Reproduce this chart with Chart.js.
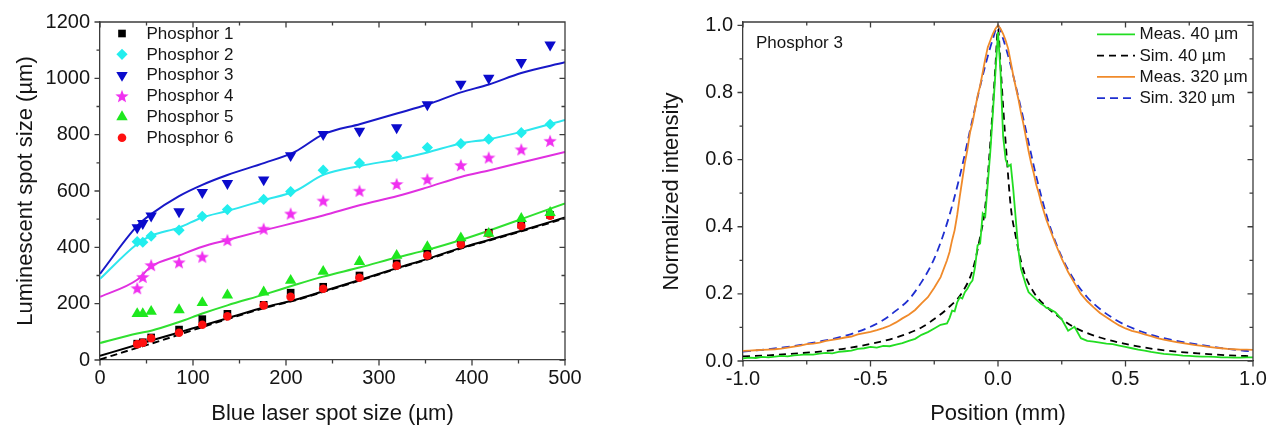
<!DOCTYPE html>
<html>
<head>
<meta charset="utf-8">
<script src="https://cdn.jsdelivr.net/npm/chart.js@4.4.1/dist/chart.umd.min.js"></script>
<style>
html,body{margin:0;padding:0;background:#ffffff;}
#wrap{position:relative;width:1280px;height:430px;overflow:hidden;}
#c1{position:absolute;left:0;top:0;}
#c2{position:absolute;left:640px;top:0;}
</style>
</head>
<body>
<div id="wrap">
<canvas id="c1" width="640" height="430" style="width:640px;height:430px"></canvas>
<canvas id="c2" width="640" height="430" style="width:640px;height:430px"></canvas>
</div>
<script>
// ---------------- LEFT CHART DATA ----------------
const spotSize  = [40, 46, 55, 85, 110, 137, 176, 205, 240, 279, 319, 352, 388, 418, 453, 484];
const phosphor1 = [58, 63, 80, 108, 145, 164, 196, 239, 260, 300, 343, 380, 415, 452, 480, 515];
const phosphor2 = [420, 418, 440, 461, 510, 534, 570, 598, 674, 699, 723, 754, 768, 784, 807, 837];
const phosphor3 = [470, 485, 512, 527, 595, 627, 640, 726, 801, 813, 825, 907, 980, 1001, 1057, 1119];
const phosphor4 = [255, 295, 337, 347, 367, 426, 466, 520, 566, 601, 625, 642, 692, 719, 748, 778];
const phosphor5 = [164, 164, 172, 178, 203, 230, 241, 282, 314, 349, 371, 402, 433, 449, 502, 523];
const phosphor6 = [56, 61, 77, 97, 125, 155, 194, 224, 253, 292, 335, 371, 410, 449, 476, 512];

const simX    = [0, 40, 55, 85, 110, 137, 177, 210, 240, 280, 320, 352, 388, 418, 453, 500];
const simP3   = [306, 476, 518, 582, 622, 657, 700, 740, 801, 838, 876, 907, 950, 978, 1019, 1057];
const simP2   = [288, 412, 441, 470, 506, 529, 568, 600, 657, 689, 713, 737, 769, 784, 810, 852];
const simP4   = [224, 285, 332, 371, 402, 426, 461, 488, 513, 550, 582, 613, 650, 673, 701, 739];
const simP5   = [60, 94, 104, 135, 165, 194, 233, 267, 296, 329, 365, 391, 426, 459, 500, 556];
const simP1   = [15, 54, 69, 98, 122, 148, 187, 214, 244, 285, 327, 359, 398, 426, 459, 506];
const simP6   = [2, 43, 58, 90, 117, 145, 185, 212, 242, 283, 325, 357, 396, 424, 457, 503];

const leftXTicks = [0, 100, 200, 300, 400, 500];
const leftXMinor = [50, 150, 250, 350, 450];
const leftYTicks = [0, 200, 400, 600, 800, 1000, 1200];
const leftYMinor = [100, 300, 500, 700, 900, 1100];
const phosphorNames = ['Phosphor 1', 'Phosphor 2', 'Phosphor 3', 'Phosphor 4', 'Phosphor 5', 'Phosphor 6'];

// ---------------- RIGHT CHART DATA ----------------
const posMeas = [
  -1.000,-0.975,-0.950,-0.925,-0.900,-0.875,-0.850,-0.825,-0.800,-0.775,-0.750,-0.725,-0.700,-0.675,-0.650,-0.625,-0.600,
  -0.575,-0.550,-0.525,-0.500,-0.475,-0.450,-0.425,-0.400,-0.375,-0.350,-0.325,-0.300,-0.275,-0.250,-0.225,-0.200,
  -0.19,-0.18,-0.17,-0.16,-0.15,-0.14,-0.13,-0.12,-0.11,-0.10,-0.09,-0.08,-0.07,-0.06,-0.05,-0.04,-0.03,-0.02,-0.01,
  0.00,0.01,0.02,0.03,0.04,0.05,0.06,0.07,0.08,0.09,0.10,0.11,0.12,0.13,0.14,0.15,0.16,0.17,0.18,0.19,
  0.200,0.225,0.250,0.275,0.300,0.325,0.350,0.375,0.400,0.425,0.450,0.475,0.500,0.525,0.550,0.575,0.600,
  0.625,0.650,0.675,0.700,0.725,0.750,0.775,0.800,0.825,0.850,0.875,0.900,0.925,0.950,0.975,1.000];
const meas40 = [
  0.008,0.010,0.009,0.012,0.011,0.013,0.015,0.014,0.017,0.018,0.020,0.019,0.022,0.024,0.023,0.027,0.029,
  0.031,0.036,0.038,0.042,0.040,0.045,0.044,0.049,0.053,0.060,0.066,0.078,0.086,0.097,0.108,0.112,
  0.128,0.150,0.148,0.175,0.190,0.186,0.205,0.215,0.230,0.240,0.280,0.345,0.350,0.440,0.430,0.530,0.625,0.740,0.860,
  0.980,0.860,0.670,0.600,0.580,0.585,0.510,0.420,0.330,0.275,0.250,0.225,0.205,0.198,0.190,0.183,0.176,0.170,0.165,0.158,
  0.156,0.145,0.124,0.090,0.102,0.068,0.060,0.058,0.055,0.052,0.050,0.046,0.042,0.038,0.034,0.031,0.027,
  0.024,0.021,0.020,0.018,0.016,0.015,0.014,0.013,0.013,0.012,0.011,0.011,0.010,0.010,0.011,0.011];
const meas320 = [
  0.030,0.031,0.032,0.033,0.034,0.035,0.037,0.040,0.043,0.046,0.050,0.052,0.055,0.060,0.063,0.066,0.070,
  0.073,0.079,0.083,0.087,0.092,0.098,0.105,0.115,0.127,0.138,0.152,0.172,0.190,0.218,0.250,0.300,
  0.325,0.360,0.390,0.435,0.490,0.540,0.590,0.630,0.680,0.710,0.750,0.790,0.820,0.860,0.900,0.935,0.955,0.975,0.990,
  1.000,0.990,0.975,0.955,0.930,0.890,0.850,0.815,0.780,0.740,0.705,0.665,0.625,0.590,0.560,0.525,0.500,0.470,0.445,0.420,
  0.400,0.350,0.305,0.265,0.232,0.200,0.178,0.160,0.143,0.130,0.118,0.106,0.097,0.090,0.085,0.079,0.074,
  0.068,0.064,0.060,0.056,0.053,0.050,0.047,0.045,0.042,0.040,0.038,0.036,0.035,0.034,0.034,0.033];
const posSim320 = [-1.0,-0.9,-0.8,-0.7,-0.6,-0.5,-0.45,-0.4,-0.35,-0.3,-0.25,-0.2,-0.15,-0.1,-0.05,-0.02,0,0.02,0.05,0.1,0.15,0.2,0.25,0.3,0.35,0.4,0.45,0.5,0.6,0.7,0.8,0.9,1.0];
const sim320    = [0.028,0.035,0.045,0.058,0.075,0.102,0.122,0.150,0.183,0.235,0.305,0.41,0.55,0.72,0.88,0.96,1.0,0.96,0.88,0.72,0.55,0.41,0.31,0.24,0.19,0.155,0.128,0.107,0.078,0.060,0.047,0.036,0.028];
const posSim40  = [-1.0,-0.9,-0.8,-0.7,-0.6,-0.5,-0.4,-0.3,-0.25,-0.2,-0.14,-0.1,-0.07,-0.05,-0.035,-0.02,-0.01,0,0.01,0.02,0.035,0.05,0.07,0.1,0.14,0.2,0.25,0.3,0.4,0.5,0.6,0.7,0.8,0.9,1.0];
const sim40     = [0.014,0.017,0.022,0.028,0.037,0.051,0.07,0.1,0.125,0.155,0.205,0.27,0.37,0.46,0.6,0.76,0.88,0.99,0.88,0.76,0.6,0.46,0.37,0.27,0.205,0.155,0.125,0.1,0.07,0.051,0.037,0.028,0.022,0.017,0.014];

const rightXTicks = [-1.0, -0.5, 0.0, 0.5, 1.0];
const rightXMinor = [-0.75, -0.25, 0.25, 0.75];
const rightYTicks = [0.0, 0.2, 0.4, 0.6, 0.8, 1.0];
const rightYMinor = [0.1, 0.3, 0.5, 0.7, 0.9];
const rightNames = ['Meas. 40 µm', 'Sim. 40 µm', 'Meas. 320 µm', 'Sim. 320 µm'];
const rightLabel = 'Phosphor 3';

// ---------------- STYLE ----------------
const FONT = "'Liberation Sans', Arial, Helvetica, sans-serif";
Chart.defaults.font.family = FONT;
Chart.defaults.color = '#151515';
Chart.defaults.animation = false;
const AXIS = '#3c3c3c';

function starCanvas(color, size) {
  const c = document.createElement('canvas');
  c.width = size; c.height = size;
  const g = c.getContext('2d');
  const cx = size / 2, cy = size / 2 + size * 0.05, R = size / 2, r = R * 0.42;
  g.beginPath();
  for (let i = 0; i < 10; i++) {
    const ang = -Math.PI / 2 + i * Math.PI / 5;
    const rr = (i % 2) ? r : R;
    g.lineTo(cx + rr * Math.cos(ang), cy + rr * Math.sin(ang));
  }
  g.closePath(); g.fillStyle = color; g.fill();
  return c;
}
const starImg = starCanvas('#f030f0', 14);

const pts = (xs, ys) => xs.map((x, i) => ({ x: x, y: ys[i] }));
const setTicks = arr => s => { s.ticks = arr.map(v => ({ value: v })); };

function frameTicks(xMajor, xMinor, yMajor, yMinor) {
  return {
    id: 'frameTicks',
    afterDraw(chart) {
      const { ctx, chartArea: a, scales } = chart;
      const x = scales.x, y = scales.y;
      ctx.save();
      ctx.strokeStyle = AXIS; ctx.lineWidth = 1.3;
      ctx.beginPath();
      ctx.moveTo(a.left, a.top); ctx.lineTo(a.right, a.top); ctx.lineTo(a.right, a.bottom);
      const seg = (x1, y1, x2, y2) => { ctx.moveTo(x1, y1); ctx.lineTo(x2, y2); };
      const MJ = 5.5, MN = 3.5;
      xMajor.forEach(v => { const p = x.getPixelForValue(v); seg(p, a.bottom, p, a.bottom + MJ); seg(p, a.top, p, a.top + MJ); });
      xMinor.forEach(v => { const p = x.getPixelForValue(v); seg(p, a.bottom, p, a.bottom + MN); seg(p, a.top, p, a.top + MN); });
      yMajor.forEach(v => { const p = y.getPixelForValue(v); seg(a.left, p, a.left - MJ, p); seg(a.right, p, a.right - MJ, p); });
      yMinor.forEach(v => { const p = y.getPixelForValue(v); seg(a.left, p, a.left - MN, p); seg(a.right, p, a.right - MN, p); });
      ctx.stroke();
      ctx.restore();
    }
  };
}

function drawMarker(ctx, ds, x, y) {
  const r = ds.pointRadius;
  ctx.save();
  ctx.fillStyle = ds.pointBackgroundColor;
  ctx.beginPath();
  const st = ds.pointStyle;
  if (st instanceof HTMLCanvasElement) {
    ctx.drawImage(st, x - st.width / 2, y - st.height / 2);
    ctx.restore(); return;
  }
  if (st === 'rect') { const h = r * Math.SQRT1_2; ctx.rect(x - h, y - h, 2 * h, 2 * h); }
  else if (st === 'rectRot') { ctx.moveTo(x, y - r); ctx.lineTo(x + r, y); ctx.lineTo(x, y + r); ctx.lineTo(x - r, y); ctx.closePath(); }
  else if (st === 'triangle') {
    let a = (ds.rotation || 0) * Math.PI / 180;
    for (let i = 0; i < 3; i++) { const px = x + Math.sin(a) * r, py = y - Math.cos(a) * r; if (i === 0) ctx.moveTo(px, py); else ctx.lineTo(px, py); a += 2 * Math.PI / 3; }
    ctx.closePath();
  } else { ctx.arc(x, y, r, 0, Math.PI * 2); }
  ctx.fill();
  ctx.restore();
}

const leftLegend = {
  id: 'leftLegend',
  afterDraw(chart) {
    const ctx = chart.ctx;
    ctx.save();
    ctx.font = '17px ' + FONT;
    ctx.fillStyle = '#151515';
    ctx.textBaseline = 'middle';
    ctx.textAlign = 'left';
    for (let i = 0; i < 6; i++) {
      const ds = chart.data.datasets[i];
      const yy = 33.5 + i * 20.85;
      drawMarker(ctx, ds, 122, yy);
      ctx.fillText(ds.label, 146.5, yy + 0.5);
    }
    ctx.restore();
  }
};

const rightLegend = {
  id: 'rightLegend',
  afterDraw(chart) {
    const ctx = chart.ctx;
    ctx.save();
    ctx.font = '17px ' + FONT;
    ctx.textBaseline = 'middle';
    ctx.textAlign = 'left';
    for (let i = 0; i < 4; i++) {
      const ds = chart.data.datasets[i];
      const yy = 34.3 + i * 21.3;
      ctx.strokeStyle = ds.borderColor; ctx.lineWidth = ds.borderWidth;
      ctx.setLineDash(ds.borderDash || []);
      ctx.beginPath(); ctx.moveTo(1097 - 640, yy); ctx.lineTo(1135 - 640, yy); ctx.stroke();
      ctx.setLineDash([]);
      ctx.fillStyle = '#151515';
      ctx.fillText(ds.label, 1139.5 - 640, yy + 0.5);
    }
    ctx.fillText(rightLabel, 756 - 640, 43.5);
    ctx.restore();
  }
};

function scatterDs(label, ys, color, style, radius, order, rotation) {
  return {
    label: label, data: pts(spotSize, ys), showLine: false,
    pointStyle: style, pointRadius: radius, pointHoverRadius: radius,
    pointBackgroundColor: color, pointBorderColor: color, pointBorderWidth: 0,
    backgroundColor: color, borderColor: color, rotation: rotation || 0, order: order
  };
}
function simDs(label, ys, color, dash) {
  return {
    label: label, data: pts(simX, ys), showLine: true, pointRadius: 0, pointHoverRadius: 0,
    borderColor: color, backgroundColor: color, borderWidth: 2, borderDash: dash || [],
    cubicInterpolationMode: 'monotone', fill: false, order: 20
  };
}

new Chart(document.getElementById('c1'), {
  type: 'scatter',
  data: {
    datasets: [
      scatterDs(phosphorNames[0], phosphor1, '#000000', 'rect', 5.4, 2),
      scatterDs(phosphorNames[1], phosphor2, '#22eeee', 'rectRot', 5.6, 4),
      scatterDs(phosphorNames[2], phosphor3, '#0b0bcc', 'triangle', 6.6, 5, 180),
      scatterDs(phosphorNames[3], phosphor4, '#f030f0', starImg, 7, 3),
      scatterDs(phosphorNames[4], phosphor5, '#1ee81e', 'triangle', 6.6, 0),
      scatterDs(phosphorNames[5], phosphor6, '#ff1010', 'circle', 4.3, 1),
      simDs('Sim. Phosphor 3', simP3, '#1818c8'),
      simDs('Sim. Phosphor 2', simP2, '#2ee6ee'),
      simDs('Sim. Phosphor 4', simP4, '#e030e0'),
      simDs('Sim. Phosphor 5', simP5, '#30e030'),
      simDs('Sim. Phosphor 1', simP1, '#000000'),
      simDs('Sim. Phosphor 6', simP6, '#000000', [7, 4])
    ]
  },
  options: {
    responsive: false, animation: false,
    layout: { padding: { left: 0, right: 75, top: 20, bottom: 0 } },
    plugins: { legend: { display: false }, tooltip: { enabled: false } },
    scales: {
      x: {
        type: 'linear', min: 0, max: 500,
        afterBuildTicks: setTicks(leftXTicks),
        afterFit: s => { s.height = 70; },
        ticks: { font: { size: 20 }, padding: 6, maxRotation: 0, autoSkip: false, color: '#151515', callback: v => String(v) },
        grid: { display: false, drawTicks: false },
        border: { display: true, color: AXIS, width: 1.3 },
        title: { display: true, text: 'Blue laser spot size (µm)', font: { size: 22 }, color: '#151515', padding: { top: 0, bottom: 3 } }
      },
      y: {
        type: 'linear', min: 0, max: 1200,
        afterBuildTicks: setTicks(leftYTicks),
        afterFit: s => { s.width = 100; },
        ticks: { font: { size: 20 }, padding: 10, autoSkip: false, color: '#151515', callback: v => String(v) },
        grid: { display: false, drawTicks: false },
        border: { display: true, color: AXIS, width: 1.3 },
        title: { display: true, text: 'Luminescent spot size (µm)', font: { size: 22 }, color: '#151515', padding: { top: 13, bottom: 0 } }
      }
    }
  },
  plugins: [frameTicks(leftXTicks, leftXMinor, leftYTicks, leftYMinor), leftLegend]
});

function lineDs(label, xs, ys, color, dash, width, smooth) {
  return {
    label: label, data: pts(xs, ys), showLine: true, pointRadius: 0, pointHoverRadius: 0,
    borderColor: color, backgroundColor: color, borderWidth: width, borderDash: dash || [],
    cubicInterpolationMode: smooth ? 'monotone' : 'default', tension: 0, fill: false
  };
}

new Chart(document.getElementById('c2'), {
  type: 'scatter',
  data: {
    datasets: [
      lineDs(rightNames[0], posMeas, meas40, '#22dd22', [], 1.8, false),
      lineDs(rightNames[1], posSim40, sim40, '#000000', [7, 5], 1.8, true),
      lineDs(rightNames[2], posMeas, meas320, '#f08a2a', [], 1.8, false),
      lineDs(rightNames[3], posSim320, sim320, '#1f2fd0', [8, 5], 1.8, true)
    ]
  },
  options: {
    responsive: false, animation: false,
    layout: { padding: { left: 0, right: 27, top: 20, bottom: 0 } },
    plugins: { legend: { display: false }, tooltip: { enabled: false } },
    scales: {
      x: {
        type: 'linear', min: -1, max: 1,
        afterBuildTicks: setTicks(rightXTicks),
        afterFit: s => { s.height = 69; },
        ticks: { font: { size: 20 }, padding: 6, maxRotation: 0, autoSkip: false, color: '#151515', callback: v => Number(v).toFixed(1) },
        grid: { display: false, drawTicks: false },
        border: { display: true, color: AXIS, width: 1.3 },
        title: { display: true, text: 'Position (mm)', font: { size: 22 }, color: '#151515', padding: { top: 0, bottom: 3 } }
      },
      y: {
        type: 'linear', min: 0, max: 1.01,
        afterBuildTicks: setTicks(rightYTicks),
        afterFit: s => { s.width = 103; },
        ticks: { font: { size: 20 }, padding: 10, autoSkip: false, color: '#151515', callback: v => Number(v).toFixed(1) },
        grid: { display: false, drawTicks: false },
        border: { display: true, color: AXIS, width: 1.3 },
        title: { display: true, text: 'Normalized intensity', font: { size: 22 }, color: '#151515', padding: { top: 19, bottom: 0 } }
      }
    }
  },
  plugins: [frameTicks(rightXTicks, rightXMinor, rightYTicks, rightYMinor), rightLegend]
});
</script>
</body>
</html>
